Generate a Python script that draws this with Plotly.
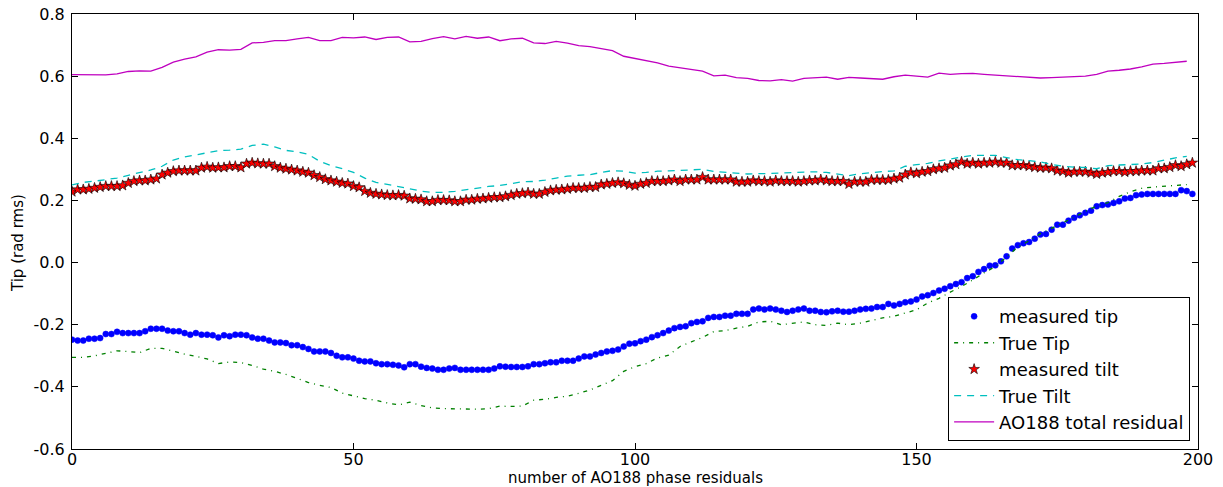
import plotly.graph_objects as go

# ---------------- data ----------------
x_points = list(range(200))          # sample index for marker series
x_lines = list(range(0, 200, 2))     # sample index for line series

measured_tip = [
    -0.248, -0.251, -0.251, -0.245, -0.245, -0.243, -0.230, -0.230, -0.223, -0.227,
    -0.227, -0.227, -0.227, -0.221, -0.213, -0.213, -0.213, -0.219, -0.221, -0.221,
    -0.227, -0.232, -0.227, -0.232, -0.232, -0.234, -0.241, -0.234, -0.237, -0.232,
    -0.232, -0.234, -0.241, -0.245, -0.245, -0.251, -0.257, -0.257, -0.259, -0.266,
    -0.266, -0.272, -0.278, -0.286, -0.286, -0.286, -0.291, -0.300, -0.305, -0.305,
    -0.309, -0.316, -0.318, -0.318, -0.324, -0.327, -0.327, -0.329, -0.331, -0.337,
    -0.327, -0.327, -0.335, -0.339, -0.341, -0.345, -0.345, -0.341, -0.339, -0.345,
    -0.345, -0.345, -0.345, -0.345, -0.345, -0.341, -0.334, -0.335, -0.336, -0.336,
    -0.336, -0.334, -0.327, -0.327, -0.324, -0.321, -0.321, -0.316, -0.316, -0.316,
    -0.309, -0.302, -0.302, -0.296, -0.291, -0.286, -0.284, -0.280, -0.270, -0.261,
    -0.260, -0.253, -0.248, -0.240, -0.234, -0.227, -0.219, -0.211, -0.207, -0.205,
    -0.195, -0.191, -0.189, -0.178, -0.175, -0.175, -0.171, -0.171, -0.165, -0.165,
    -0.165, -0.151, -0.148, -0.151, -0.148, -0.151, -0.155, -0.159, -0.155, -0.151,
    -0.148, -0.155, -0.155, -0.159, -0.160, -0.157, -0.155, -0.158, -0.158, -0.155,
    -0.151, -0.149, -0.148, -0.143, -0.143, -0.133, -0.138, -0.133, -0.128, -0.125,
    -0.119, -0.109, -0.105, -0.098, -0.090, -0.084, -0.076, -0.069, -0.063, -0.050,
    -0.044, -0.030, -0.021, -0.010, -0.009, 0.004, 0.020, 0.045, 0.056, 0.062,
    0.066, 0.077, 0.090, 0.092, 0.106, 0.122, 0.122, 0.135, 0.144, 0.152,
    0.160, 0.167, 0.181, 0.185, 0.187, 0.192, 0.197, 0.206, 0.208, 0.217,
    0.219, 0.221, 0.221, 0.221, 0.221, 0.221, 0.221, 0.233, 0.230, 0.221,
]

true_tip = [
    -0.305, -0.305, -0.300, -0.293, -0.284, -0.286, -0.290, -0.276, -0.276, -0.285,
    -0.295, -0.302, -0.310, -0.325, -0.320, -0.322, -0.331, -0.343, -0.350, -0.360,
    -0.372, -0.386, -0.395, -0.402, -0.420, -0.430, -0.438, -0.443, -0.452, -0.458,
    -0.449, -0.460, -0.468, -0.470, -0.471, -0.473, -0.472, -0.470, -0.462, -0.463,
    -0.462, -0.443, -0.440, -0.434, -0.430, -0.421, -0.410, -0.395, -0.380, -0.350,
    -0.335, -0.325, -0.307, -0.298, -0.270, -0.255, -0.241, -0.222, -0.219, -0.211,
    -0.205, -0.191, -0.189, -0.200, -0.195, -0.191, -0.200, -0.202, -0.195, -0.200,
    -0.195, -0.187, -0.178, -0.173, -0.162, -0.152, -0.130, -0.115, -0.095, -0.077,
    -0.056, -0.033, -0.013, 0.020, 0.050, 0.070, 0.093, 0.110, 0.127, 0.146,
    0.165, 0.182, 0.193, 0.213, 0.228, 0.239, 0.243, 0.245, 0.248, 0.251,
]

measured_tilt = [
    0.228, 0.235, 0.235, 0.237, 0.240, 0.243, 0.246, 0.246, 0.246, 0.248,
    0.256, 0.262, 0.264, 0.264, 0.267, 0.270, 0.283, 0.289, 0.294, 0.296,
    0.296, 0.296, 0.296, 0.305, 0.308, 0.305, 0.306, 0.306, 0.310, 0.310,
    0.306, 0.318, 0.321, 0.319, 0.318, 0.318, 0.310, 0.305, 0.302, 0.299,
    0.296, 0.292, 0.289, 0.281, 0.275, 0.268, 0.264, 0.260, 0.256, 0.254,
    0.246, 0.242, 0.230, 0.224, 0.221, 0.219, 0.217, 0.216, 0.217, 0.215,
    0.206, 0.205, 0.203, 0.197, 0.197, 0.201, 0.201, 0.200, 0.197, 0.197,
    0.202, 0.202, 0.205, 0.206, 0.208, 0.210, 0.210, 0.213, 0.217, 0.221,
    0.223, 0.225, 0.221, 0.221, 0.227, 0.232, 0.234, 0.235, 0.237, 0.240,
    0.240, 0.240, 0.243, 0.243, 0.251, 0.253, 0.256, 0.258, 0.255, 0.250,
    0.247, 0.253, 0.256, 0.262, 0.262, 0.262, 0.264, 0.267, 0.262, 0.267,
    0.267, 0.267, 0.275, 0.267, 0.267, 0.267, 0.267, 0.267, 0.260, 0.260,
    0.260, 0.264, 0.262, 0.262, 0.260, 0.264, 0.262, 0.262, 0.262, 0.260,
    0.262, 0.264, 0.264, 0.267, 0.264, 0.262, 0.262, 0.262, 0.253, 0.260,
    0.260, 0.260, 0.266, 0.266, 0.266, 0.266, 0.270, 0.273, 0.283, 0.290,
    0.287, 0.292, 0.294, 0.300, 0.303, 0.305, 0.312, 0.316, 0.324, 0.318,
    0.321, 0.318, 0.321, 0.321, 0.324, 0.321, 0.321, 0.313, 0.313, 0.313,
    0.310, 0.307, 0.305, 0.305, 0.303, 0.296, 0.294, 0.289, 0.292, 0.292,
    0.292, 0.289, 0.285, 0.289, 0.291, 0.294, 0.294, 0.291, 0.294, 0.294,
    0.296, 0.296, 0.296, 0.303, 0.303, 0.307, 0.313, 0.310, 0.316, 0.321,
]

true_tilt = [
    0.250, 0.258, 0.262, 0.266, 0.272, 0.281, 0.290, 0.298, 0.310, 0.330,
    0.340, 0.347, 0.355, 0.360, 0.362, 0.365, 0.377, 0.381, 0.372, 0.361,
    0.356, 0.348, 0.326, 0.312, 0.302, 0.290, 0.272, 0.258, 0.252, 0.245,
    0.238, 0.230, 0.226, 0.226, 0.229, 0.235, 0.240, 0.245, 0.248, 0.254,
    0.260, 0.261, 0.265, 0.272, 0.278, 0.281, 0.283, 0.290, 0.296, 0.294,
    0.288, 0.290, 0.294, 0.295, 0.296, 0.298, 0.300, 0.293, 0.290, 0.287,
    0.285, 0.286, 0.286, 0.288, 0.290, 0.291, 0.292, 0.290, 0.286, 0.280,
    0.286, 0.290, 0.293, 0.295, 0.310, 0.315, 0.319, 0.327, 0.334, 0.340,
    0.345, 0.345, 0.345, 0.338, 0.331, 0.328, 0.324, 0.316, 0.310, 0.307,
    0.306, 0.302, 0.312, 0.314, 0.315, 0.317, 0.322, 0.330, 0.337, 0.342,
]

total_residual = [
    0.605, 0.605, 0.605, 0.604, 0.607, 0.615, 0.617, 0.616, 0.628, 0.645,
    0.655, 0.662, 0.677, 0.685, 0.684, 0.686, 0.707, 0.709, 0.714, 0.714,
    0.720, 0.725, 0.714, 0.714, 0.725, 0.723, 0.726, 0.718, 0.725, 0.726,
    0.710, 0.712, 0.721, 0.727, 0.720, 0.728, 0.722, 0.726, 0.714, 0.720,
    0.722, 0.707, 0.705, 0.712, 0.706, 0.698, 0.695, 0.688, 0.682, 0.664,
    0.657, 0.650, 0.643, 0.632, 0.627, 0.620, 0.616, 0.601, 0.603, 0.595,
    0.593, 0.586, 0.585, 0.589, 0.584, 0.593, 0.596, 0.597, 0.590, 0.596,
    0.594, 0.592, 0.590, 0.598, 0.603, 0.600, 0.597, 0.610, 0.606, 0.608,
    0.609, 0.606, 0.604, 0.601, 0.600, 0.596, 0.594, 0.595, 0.597, 0.599,
    0.600, 0.606, 0.616, 0.619, 0.623, 0.630, 0.639, 0.641, 0.644, 0.648,
]

x_tick_vals = [0, 50, 100, 150, 200]
y_tick_vals = [-0.6, -0.4, -0.2, 0.0, 0.2, 0.4, 0.6, 0.8]
y_tick_text = ["-0.6", "-0.4", "-0.2", "0.0", "0.2", "0.4", "0.6", "0.8"]

x_title = "number of AO188 phase residuals"
y_title = "Tip (rad rms)"

# ---------------- figure ----------------
FONT = "DejaVu Sans"
W, H = 1223, 487
ML, MR, MT, MB = 72, 25, 14, 38
PW, PH = W - ML - MR, H - MT - MB

fig = go.Figure()
fig.add_trace(go.Scatter(
    x=x_points, y=measured_tip, mode="markers", name="measured tip",
    marker=dict(symbol="circle", size=6, color="#0000ff",
                line=dict(color="#0000ff", width=0.5)),
))
fig.add_trace(go.Scatter(
    x=x_lines, y=true_tip, mode="lines", name="True Tip",
    line=dict(color="#008000", width=1.3, dash="4px,5px,1px,5px"),
))
fig.add_trace(go.Scatter(
    x=x_points, y=measured_tilt, mode="markers", name="measured tilt",
    marker=dict(symbol="star", size=8, color="#ff0000",
                line=dict(color="#000000", width=0.6)),
))
fig.add_trace(go.Scatter(
    x=x_lines, y=true_tilt, mode="lines", name="True Tilt",
    line=dict(color="#00bfbf", width=1.3, dash="7px,6px"),
))
fig.add_trace(go.Scatter(
    x=x_lines, y=total_residual, mode="lines", name="AO188 total residual",
    line=dict(color="#bf00bf", width=1.3),
))

axis_common = dict(
    showline=True, linecolor="black", linewidth=1, mirror="ticks",
    ticks="inside", ticklen=6, tickcolor="black", tickwidth=1,
    showgrid=False, zeroline=False, automargin=False,
    tickfont=dict(family=FONT, size=16, color="black"),
)

fig.update_layout(
    width=W, height=H, autosize=False,
    margin=dict(l=ML, r=MR, t=MT, b=MB, pad=0),
    paper_bgcolor="white", plot_bgcolor="white",
    font=dict(family=FONT, size=15, color="black"),
    xaxis=dict(range=[0, 200], tickvals=x_tick_vals, **axis_common),
    yaxis=dict(range=[-0.6, 0.8], tickvals=y_tick_vals, ticktext=y_tick_text,
               ticklabelstandoff=3, **axis_common),
    legend=dict(
        x=0.993, y=0.018, xanchor="right", yanchor="bottom",
        bgcolor="white", bordercolor="black", borderwidth=1,
        font=dict(family=FONT, size=18, color="black"),
        itemwidth=40, tracegroupgap=0,
    ),
    showlegend=True,
    annotations=[
        dict(text=x_title, xref="paper", yref="paper",
             x=0.5, y=-(478 - (MT + PH)) / PH, xanchor="center", yanchor="middle",
             showarrow=False, font=dict(family=FONT, size=15, color="black")),
        dict(text=y_title, xref="paper", yref="paper", textangle=-90,
             x=(18 - ML) / PW, y=(MT + PH - 243) / PH, xanchor="center", yanchor="middle",
             showarrow=False, font=dict(family=FONT, size=15, color="black")),
    ],
)

# pull the x tick labels a little closer to the axis, like the reference
try:
    fig.update_xaxes(ticklabelstandoff=-4)
except Exception:
    pass

fig.write_html("out.html", config={"displayModeBar": False},
               post_script="document.body.style.margin='0';")
